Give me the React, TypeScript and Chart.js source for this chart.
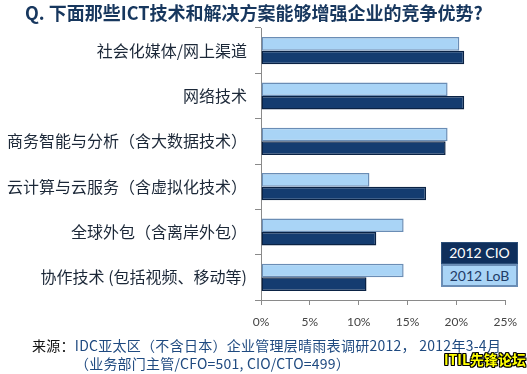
import React, { useEffect, useRef } from "react";
import { Chart, registerables } from "chart.js";

Chart.register(...registerables);

const titleText = "Q. 下面那些ICT技术和解决方案能够增强企业的竞争优势?";
const categories = [
  "社会化媒体/网上渠道",
  "网络技术",
  "商务智能与分析（含大数据技术）",
  "云计算与云服务（含虚拟化技术）",
  "全球外包（含离岸外包）",
  "协作技术 (包括视频、移动等)",
];
const seriesNames = ["2012 LoB", "2012 CIO"];
const lobValues = [20.3, 19.1, 19.1, 11.1, 14.6, 14.6];
const cioValues = [20.8, 20.8, 18.9, 16.9, 11.8, 10.8];
const xTicks = [0, 5, 10, 15, 20, 25];
const sourceLabel = "来源：";
const sourceLine1 = "IDC亚太区（不含日本）企业管理层晴雨表调研2012， 2012年3-4月";
const sourceLine2 = "（业务部门主管/CFO=501, CIO/CTO=499）";
const watermark = "ITIL先锋论坛";

export default function App() {
  const canvasRef = useRef<HTMLCanvasElement | null>(null);

  useEffect(() => {
    const canvas = canvasRef.current;
    if (!canvas) return;
    const chart = new Chart(canvas, {
      type: "bar",
      data: {
        labels: categories,
        datasets: [
          {
            label: seriesNames[0],
            data: lobValues,
            backgroundColor: "#a9d4f6",
            borderColor: "#6a8db5",
            borderWidth: 1.5,
            borderSkipped: false,
            categoryPercentage: 0.6,
            barPercentage: 1.0,
          },
          {
            label: seriesNames[1],
            data: cioValues,
            backgroundColor: "#143c70",
            borderColor: "#0a2244",
            borderWidth: 1.5,
            borderSkipped: false,
            categoryPercentage: 0.6,
            barPercentage: 1.0,
          },
        ],
      },
      options: {
        indexAxis: "y",
        responsive: false,
        animation: false,
        layout: { padding: { top: 28, left: 0, right: 17, bottom: 0 } },
        plugins: {
          legend: { display: false },
          tooltip: { enabled: false },
          title: { display: false },
        },
        scales: {
          x: {
            min: 0,
            max: 25,
            afterBuildTicks: (scale: any) => {
              scale.ticks = xTicks.map((v) => ({ value: v }));
            },
            afterFit: (scale: any) => {
              scale.height = 74;
            },
            grid: {
              drawOnChartArea: false,
              drawTicks: true,
              tickLength: 5,
              color: "#8a8a8a",
            },
            border: { display: true, color: "#8a8a8a" },
            ticks: {
              callback: (v: any) => v + "%",
              color: "#444444",
              padding: 10,
              font: { family: "Lato, 'Open Sans', sans-serif", size: 12 },
              maxRotation: 0,
            },
          },
          y: {
            afterFit: (scale: any) => {
              scale.width = 261;
            },
            grid: {
              offset: true,
              drawOnChartArea: false,
              drawTicks: true,
              tickLength: 6,
              color: "#8a8a8a",
            },
            border: { display: true, color: "#8a8a8a" },
            ticks: {
              color: "#1c2838",
              padding: 8,
              font: { family: "'Noto Sans CJK SC', sans-serif", size: 16 },
            },
          },
        },
      },
    });
    return () => chart.destroy();
  }, []);

  return (
    <div
      style={{
        position: "absolute",
        left: 0,
        top: 0,
        width: 527,
        height: 374,
        background: "#ffffff",
        overflow: "hidden",
        fontFamily: "'Noto Sans CJK SC', sans-serif",
      }}
    >
      <canvas ref={canvasRef} width={527} height={374} style={{ position: "absolute", left: 0, top: 0 }} />
      <div
        style={{
          position: "absolute",
          left: 25,
          top: 1,
          fontSize: 18,
          fontWeight: 700,
          color: "#17375e",
          whiteSpace: "nowrap",
          lineHeight: "22px",
        }}
      >
        {titleText}
      </div>
      <div
        style={{
          position: "absolute",
          left: 441,
          top: 242,
          width: 77,
          height: 22,
          boxSizing: "border-box",
          background: "#0f2f5c",
          border: "1.5px solid #2b4e78",
          color: "#ffffff",
          fontFamily: "Lato, 'Open Sans', sans-serif",
          fontSize: 14,
          lineHeight: "19px",
          textAlign: "center",
        }}
      >
        {"2012 CIO"}
      </div>
      <div
        style={{
          position: "absolute",
          left: 441,
          top: 264,
          width: 77,
          height: 23,
          boxSizing: "border-box",
          background: "#a9d4f6",
          border: "2px solid #6a8db5",
          color: "#1f3b66",
          fontFamily: "Lato, 'Open Sans', sans-serif",
          fontSize: 14,
          lineHeight: "19px",
          textAlign: "center",
        }}
      >
        {"2012 LoB"}
      </div>
      <div
        style={{
          position: "absolute",
          left: 32,
          top: 336,
          fontSize: 14,
          lineHeight: "18px",
          whiteSpace: "nowrap",
          letterSpacing: "0.27px",
          color: "#1f4a80",
        }}
      >
        <span style={{ color: "#111111" }}>{sourceLabel}</span>
        {sourceLine1}
      </div>
      <div
        style={{
          position: "absolute",
          left: 75,
          top: 354,
          fontSize: 14,
          lineHeight: "18px",
          whiteSpace: "nowrap",
          letterSpacing: "0.2px",
          color: "#1f4a80",
        }}
      >
        {sourceLine2}
      </div>
      <div
        style={{
          position: "absolute",
          left: 444,
          top: 350,
          fontSize: 14,
          fontWeight: 700,
          lineHeight: "18px",
          whiteSpace: "nowrap",
          color: "#ffff00",
          textShadow:
            "-1px 0 #000, 1px 0 #000, 0 -1px #000, 0 1px #000, -1px -1px #000, 1px 1px #000, -1px 1px #000, 1px -1px #000",
        }}
      >
        {watermark}
      </div>
    </div>
  );
}
